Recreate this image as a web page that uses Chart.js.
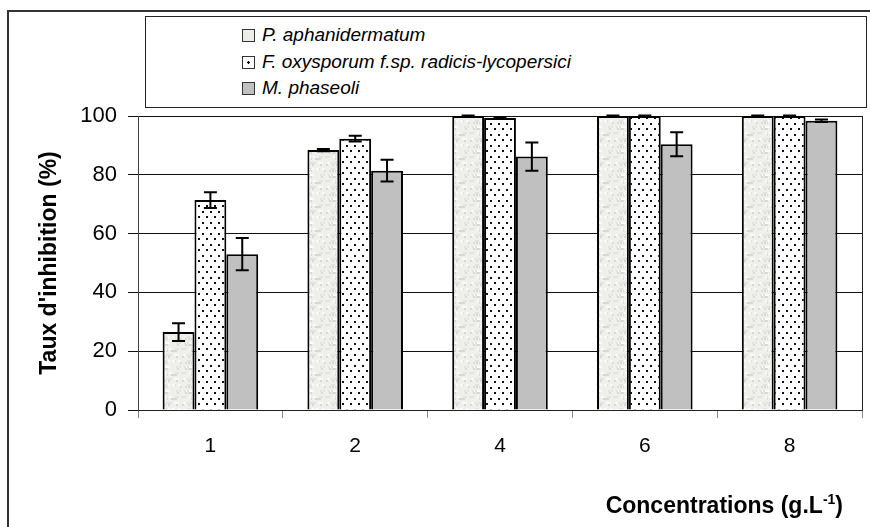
<!DOCTYPE html>
<html>
<head>
<meta charset="utf-8">
<script src="https://cdn.jsdelivr.net/npm/chart.js@4"></script>
<style>
  body { margin: 0; background: #fff; }
  #wrap { position: relative; width: 870px; height: 527px; overflow: hidden; }
  #legend {
    position: absolute; left: 145px; top: 16px; width: 722px; height: 92px;
    border: 1px solid #222; background: #fff; box-sizing: border-box;
    font-family: "Liberation Sans", Arial, sans-serif; font-style: italic; font-size: 19px;
    padding-top: 5px;
  }
  #legend div { height: 26.5px; line-height: 26.5px; padding-left: 96px; white-space: nowrap; }
  #legend span.sw {
    display: inline-block; width: 11px; height: 11px; border: 1px solid #333;
    margin-right: 7px; vertical-align: -1px;
  }
  #xtitle {
    position: absolute; right: 27px; top: 486px; line-height: 27px;
    font-family: "Liberation Sans", Arial, sans-serif; font-weight: bold; font-size: 23px;
  }
  #xtitle sup { font-size: 14px; }
</style>
</head>
<body>
<div id="wrap">
  <canvas id="chart" width="870" height="527"></canvas>
  <div id="legend"></div>
  <div id="xtitle">Concentrations (g.L<sup>-1</sup>)</div>
</div>
<script>
// valeurs
const concentrations = ['1', '2', '4', '6', '8'];
const seriesNames = ['P. aphanidermatum', 'F. oxysporum f.sp. radicis-lycopersici', 'M. phaseoli'];
const pAphanidermatum = [26.5, 88.4, 100, 100, 100];
const fOxysporum = [71.4, 92.3, 99.3, 100, 100];
const mPhaseoli = [53.0, 81.4, 86.2, 90.4, 98.4];
const errP = [3.0, 0.4, 0.2, 0.2, 0.2];
const errF = [2.7, 1.0, 0.3, 0.2, 0.2];
const errM = [5.5, 3.7, 4.8, 4.1, 0.4];
const yLabel = "Taux d'inhibition (%)";

// motifs de remplissage
function speckle() {
  const c = document.createElement('canvas');
  c.width = 24; c.height = 24;
  const g = c.getContext('2d');
  g.fillStyle = '#efefeb';
  g.fillRect(0, 0, 24, 24);
  for (let i = 0; i < 60; i++) {
    const x = (i * 37 + (i * i) % 11) % 24;
    const y = (i * 53 + i * i * 7) % 24;
    g.fillStyle = i % 3 === 0 ? '#fbfbf9' : (i % 3 === 1 ? '#e2e2de' : '#d9d9d5');
    g.fillRect(x, y, 2, 2);
  }
  return g.createPattern(c, 'repeat');
}
function dots() {
  const c = document.createElement('canvas');
  c.width = 8; c.height = 11;
  const g = c.getContext('2d');
  g.fillStyle = '#fff';
  g.fillRect(0, 0, 8, 11);
  g.fillStyle = '#111';
  g.fillRect(2, 2, 2, 2);
  g.fillRect(6, 7, 2, 2);
  return g.createPattern(c, 'repeat');
}
const fills = [speckle(), dots(), '#c0c0c0'];
const swatchCss = ['#ecece8', 'radial-gradient(circle at 50% 50%, #000 1px, #fff 1.5px)', '#c0c0c0'];

const legend = document.getElementById('legend');
seriesNames.forEach((name, i) => {
  const row = document.createElement('div');
  row.innerHTML = '<span class="sw" style="background:' + swatchCss[i] + '"></span>' + name;
  legend.appendChild(row);
});

const errorBars = {
  id: 'errorBars',
  afterDatasetsDraw(chart) {
    const ctx = chart.ctx;
    const y = chart.scales.y;
    ctx.save();
    ctx.strokeStyle = '#000';
    ctx.lineWidth = 2;
    chart.data.datasets.forEach((ds, di) => {
      const meta = chart.getDatasetMeta(di);
      meta.data.forEach((bar, i) => {
        const v = ds.data[i], e = ds.errors[i];
        const top = y.getPixelForValue(v + e), bot = y.getPixelForValue(v - e);
        ctx.beginPath();
        ctx.moveTo(bar.x, top); ctx.lineTo(bar.x, bot);
        ctx.moveTo(bar.x - 6.5, top); ctx.lineTo(bar.x + 6.5, top);
        ctx.moveTo(bar.x - 6.5, bot); ctx.lineTo(bar.x + 6.5, bot);
        ctx.stroke();
      });
    });
    ctx.restore();
  }
};

const frame = {
  id: 'frame',
  beforeDraw(chart) {
    const ctx = chart.ctx;
    ctx.save();
    ctx.strokeStyle = '#333';
    ctx.lineWidth = 2;
    ctx.beginPath();
    ctx.moveTo(8, 527); ctx.lineTo(8, 11); ctx.lineTo(870, 11);
    ctx.stroke();
    ctx.restore();
  },
  afterDraw(chart) {
    const a = chart.chartArea, ctx = chart.ctx;
    ctx.save();
    ctx.strokeStyle = '#222';
    ctx.lineWidth = 1;
    ctx.beginPath();
    ctx.moveTo(a.right + 0.5, a.top); ctx.lineTo(a.right + 0.5, a.bottom);
    ctx.stroke();
    ctx.restore();
  }
};

Chart.defaults.font.family = '"Liberation Sans", Arial, sans-serif';
Chart.defaults.color = '#000';

new Chart(document.getElementById('chart'), {
  type: 'bar',
  data: {
    labels: concentrations,
    datasets: [
      { label: seriesNames[0], data: pAphanidermatum, errors: errP, backgroundColor: fills[0] },
      { label: seriesNames[1], data: fOxysporum, errors: errF, backgroundColor: fills[1] },
      { label: seriesNames[2], data: mPhaseoli, errors: errM, backgroundColor: fills[2] }
    ]
  },
  options: {
    responsive: false,
    animation: false,
    layout: { padding: { top: 116, right: 8, left: 0, bottom: 0 } },
    datasets: {
      bar: { borderColor: '#000', borderWidth: 2, categoryPercentage: 0.66, barPercentage: 1 }
    },
    plugins: {
      legend: { display: false },
      tooltip: { enabled: false }
    },
    scales: {
      x: {
        grid: { drawOnChartArea: false, drawTicks: true, tickLength: 8, color: '#888', offset: true },
        border: { color: '#222', width: 1 },
        ticks: { font: { size: 21 }, padding: 16 },
        afterFit: (s) => { s.height = 117; }
      },
      y: {
        min: 0, max: 100,
        grid: { color: '#111', lineWidth: 1, tickLength: 10 },
        border: { color: '#444', width: 1 },
        ticks: { stepSize: 20, font: { size: 22 }, padding: 11 },
        title: { display: true, text: yLabel, font: { size: 23, weight: 'bold' }, padding: { top: 36, bottom: 0 } },
        afterFit: (s) => { s.width = 138; }
      }
    }
  },
  plugins: [frame, errorBars]
});
</script>
</body>
</html>
